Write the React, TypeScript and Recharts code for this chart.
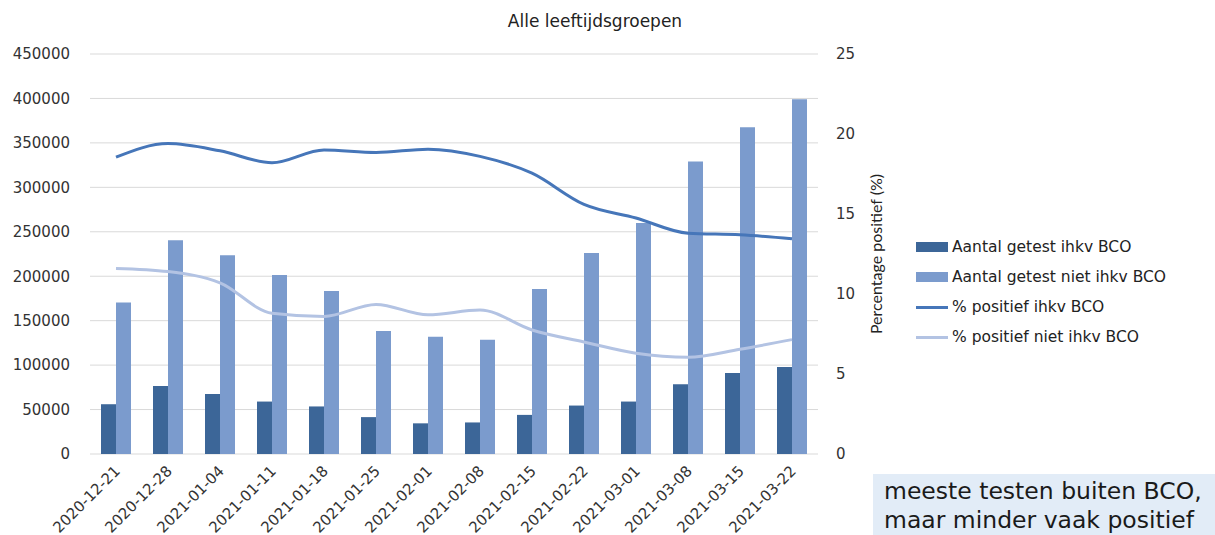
import React from 'react'
import { Bar, CartesianGrid, ComposedChart, Line, XAxis, YAxis } from 'recharts'

const weken = [
  '2020-12-21', '2020-12-28', '2021-01-04', '2021-01-11', '2021-01-18', '2021-01-25', '2021-02-01',
  '2021-02-08', '2021-02-15', '2021-02-22', '2021-03-01', '2021-03-08', '2021-03-15', '2021-03-22',
]
const getestBco = [56000, 76500, 67500, 59000, 53500, 41500, 34500, 35500, 44000, 54500, 59000, 78500, 91000, 98000]
const getestNietBco = [170500, 240500, 223500, 201500, 183500, 138500, 132000, 128500, 185500, 226000, 260000, 329000, 367500, 399000]
const positiefBco = [18.55, 19.4, 18.95, 18.2, 19.0, 18.85, 19.05, 18.6, 17.55, 15.6, 14.75, 13.8, 13.7, 13.45]
const positiefNietBco = [11.6, 11.4, 10.7, 8.8, 8.6, 9.35, 8.7, 9.0, 7.75, 7.0, 6.3, 6.05, 6.55, 7.15]
const linksTicks = [0, 50000, 100000, 150000, 200000, 250000, 300000, 350000, 400000, 450000]
const rechtsTicks = [0, 5, 10, 15, 20, 25]

const data = weken.map((week, i) => ({
  week,
  getestBco: getestBco[i],
  getestNietBco: getestNietBco[i],
  positiefBco: positiefBco[i],
  positiefNietBco: positiefNietBco[i],
}))

const FONT = '"DejaVu Sans", Verdana, sans-serif'

const legendItems = [
  { label: 'Aantal getest ihkv BCO', color: '#3C6698', type: 'bar' },
  { label: 'Aantal getest niet ihkv BCO', color: '#7B9BCD', type: 'bar' },
  { label: '% positief ihkv BCO', color: '#4676B9', type: 'line' },
  { label: '% positief niet ihkv BCO', color: '#B3C3E3', type: 'line' },
]

function Legenda() {
  return (
    <div
      style={{
        position: 'absolute', left: 916, top: 232, width: 299,
        fontFamily: FONT, fontSize: 15.5, color: '#222',
      }}
    >
      {legendItems.map((it) => (
        <div key={it.label} style={{ display: 'flex', alignItems: 'center', height: 30, whiteSpace: 'nowrap' }}>
          <div
            style={{
              width: 32,
              height: it.type === 'bar' ? 10 : 3,
              background: it.color,
              marginRight: 4,
            }}
          />
          <span>{it.label}</span>
        </div>
      ))}
    </div>
  )
}

function WeekTick({ x, y, payload }: { x?: number; y?: number; payload?: { value: string } }) {
  const tx = (x ?? 0) + 5
  const ty = (y ?? 0) + 10
  return (
    <text
      x={tx}
      y={ty}
      textAnchor="end"
      fontSize={15}
      fontFamily={FONT}
      fill="#333"
      transform={`rotate(-45, ${tx}, ${ty})`}
    >
      {payload?.value}
    </text>
  )
}

export default function App() {
  return (
    <div style={{ position: 'absolute', left: 0, top: 0, width: 1215, height: 535, background: '#fff' }}>
      <div
        style={{
          position: 'absolute', left: 0, width: 1190, top: 11, textAlign: 'center',
          fontFamily: FONT, fontSize: 17, color: '#222',
        }}
      >
        Alle leeftijdsgroepen
      </div>
      <ComposedChart
        width={1215}
        height={535}
        data={data}
        barGap={0}
        barSize={15}
        margin={{ top: 54, right: 347, left: 0, bottom: 0 }}
      >
        <CartesianGrid yAxisId="left" stroke="#D9D9D9" vertical={false} />
        <XAxis
          dataKey="week"
          height={81}
          interval={0}
          axisLine={false}
          tickLine={false}
          tick={<WeekTick />}
        />
        <YAxis
          yAxisId="left"
          domain={[0, 450000]}
          ticks={linksTicks}
          width={90}
          axisLine={false}
          tickLine={false}
          tickMargin={14}
          tick={{ fontSize: 15, fill: '#333', fontFamily: FONT }}
        />
        <YAxis
          yAxisId="right"
          orientation="right"
          domain={[0, 25]}
          ticks={rechtsTicks}
          width={50}
          axisLine={false}
          tickLine={false}
          tickMargin={12}
          tick={{ fontSize: 15, fill: '#333', fontFamily: FONT, textAnchor: 'start' }}
          label={{
            value: 'Percentage positief (%)',
            angle: -90,
            position: 'right',
            offset: 8,
            style: { fontSize: 16, fill: '#222', fontFamily: '"Liberation Sans Narrow", Lato, sans-serif', textAnchor: 'middle' },
          }}
        />
        <Bar yAxisId="left" dataKey="getestBco" fill="#3C6698" isAnimationActive={false} />
        <Bar yAxisId="left" dataKey="getestNietBco" fill="#7B9BCD" isAnimationActive={false} />
        <Line
          yAxisId="right"
          dataKey="positiefBco"
          type="monotone"
          stroke="#4676B9"
          strokeWidth={3}
          dot={false}
          isAnimationActive={false}
        />
        <Line
          yAxisId="right"
          dataKey="positiefNietBco"
          type="monotone"
          stroke="#B3C3E3"
          strokeWidth={3}
          dot={false}
          isAnimationActive={false}
        />
      </ComposedChart>
      <Legenda />
      <div
        style={{
          position: 'absolute', left: 873, top: 474, width: 342, height: 61,
          background: '#E2ECF7', fontFamily: FONT, fontSize: 23.5, color: '#1a1a1a',
          lineHeight: '29px', paddingLeft: 11, paddingTop: 3, boxSizing: 'border-box',
          whiteSpace: 'nowrap', overflow: 'hidden',
        }}
      >
        meeste testen buiten BCO,
        <br />
        maar minder vaak positief
      </div>
    </div>
  )
}
